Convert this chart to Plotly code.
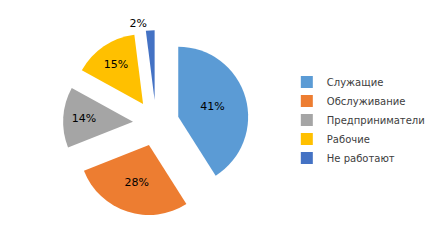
import plotly.graph_objects as go

categories = ["Служащие", "Обслуживание", "Предприниматели", "Рабочие", "Не работают"]
values = [41, 28, 14, 15, 2]
colors = ["#5B9BD5", "#ED7D31", "#A5A5A5", "#FFC000", "#4472C4"]
text_positions = ["inside", "inside", "inside", "inside", "outside"]

fig = go.Figure(go.Pie(
    labels=categories,
    values=values,
    sort=False,
    direction="clockwise",
    rotation=0,
    pull=[0.33] * len(values),
    marker=dict(colors=colors, line=dict(width=0)),
    textinfo="percent",
    texttemplate="%{percent:.0%}",
    textposition=text_positions,
    insidetextorientation="horizontal",
    textfont=dict(family="DejaVu Sans", size=11, color="#000000"),
    domain=dict(x=[0.142, 0.561], y=[0.125, 0.878]),
    automargin=False,
))

fig.update_layout(
    width=444, height=247,
    margin=dict(l=0, r=0, t=0, b=0, autoexpand=False),
    paper_bgcolor="white",
    showlegend=True,
    legend=dict(
        x=0.646, y=0.514, xanchor="left", yanchor="middle",
        font=dict(family="DejaVu Sans", size=10, color="#404040"),
        itemwidth=30, tracegroupgap=0,
    ),
)

fig.write_html("out.html")
